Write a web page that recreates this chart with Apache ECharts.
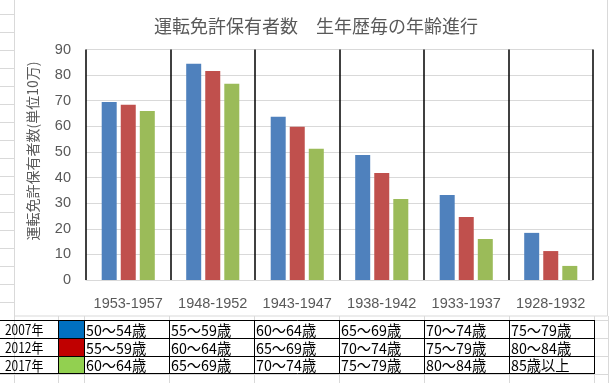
<!DOCTYPE html>
<html><head><meta charset="utf-8">
<script src="https://cdn.jsdelivr.net/npm/echarts@6/dist/echarts.min.js"></script>
<style>html,body{margin:0;padding:0;background:#fff;}#c{width:609px;height:383px;}</style>
</head><body><div id="c"></div>
<script>
const categories = ['1953-1957','1948-1952','1943-1947','1938-1942','1933-1937','1928-1932'];
const years = ['2007年','2012年','2017年'];
const v2007 = [69.5, 84.4, 63.7, 48.8, 33.2, 18.4];
const v2012 = [68.4, 81.6, 59.8, 41.8, 24.6, 11.3];
const v2017 = [66.0, 76.6, 51.2, 31.6, 16.0, 5.5];
const ages2007 = ['50～54歳','55～59歳','60～64歳','65～69歳','70～74歳','75～79歳'];
const ages2012 = ['55～59歳','60～64歳','65～69歳','70～74歳','75～79歳','80～84歳'];
const ages2017 = ['60～64歳','65～69歳','70～74歳','75～79歳','80～84歳','85歳以上'];
const yMin = 0, yMax = 90, yStep = 10;
const titleText = '運転免許保有者数　生年歴毎の年齢進行';
const yName = '運転免許保有者数(単位10万)';

const barColors = ['#4F81BD','#C0504D','#9BBB59'];
const swatchColors = ['#0070C0','#C00000','#92D050'];
const jp = '"Noto Sans CJK JP", sans-serif';
const lat = '"Liberation Sans", Arial, sans-serif';

const chart = echarts.init(document.getElementById('c'), null, {renderer:'canvas'});

const gridGray = '#D9D9D9';
const graphics = [];
for (let y = 14; y <= 302; y += 18) {
  graphics.push({type:'line', silent:true, z:-5, shape:{x1:0,y1:y+0.5,x2:14,y2:y+0.5}, style:{stroke:gridGray,lineWidth:1}});
}
const colX = [58,84,169,254,339,424,509,594];
graphics.push({type:'rect', silent:true, z:-6, shape:{x:14.5,y:-1,width:593,height:317}, style:{fill:'#fff', stroke:gridGray, lineWidth:1}});
const rowY = [320,338,356,374];
rowY.forEach(y=>{
  graphics.push({type:'line', silent:true, z:-5, shape:{x1:0,y1:y+0.5,x2:609,y2:y+0.5}, style:{stroke:gridGray,lineWidth:1}});
});
[14].concat(colX).concat([608]).forEach(x=>{
  graphics.push({type:'line', silent:true, z:-5, shape:{x1:x+0.5,y1:316,x2:x+0.5,y2:383}, style:{stroke:gridGray,lineWidth:1}});
});
const tRows = [320,338,356,373];
const rowsData = [ages2007, ages2012, ages2017];
for (let r = 0; r < 3; r++) {
  graphics.push({type:'rect', silent:true, z:10, shape:{x:58,y:tRows[r]+1,width:26,height:tRows[r+1]-tRows[r]-1}, style:{fill:swatchColors[r]}});
  graphics.push({type:'text', silent:true, z:11, x:5, y:(tRows[r]+tRows[r+1])/2+1, scaleX:0.85,
    style:{text:years[r], x:0, y:0, fill:'#000', font:'14px ' + jp, textAlign:'left', textVerticalAlign:'middle'}});
  for (let c = 0; c < 6; c++) {
    graphics.push({type:'text', silent:true, z:11, x:colX[c+1]+2, y:(tRows[r]+tRows[r+1])/2+1, scaleX:0.95,
      style:{text:rowsData[r][c], x:0, y:0, fill:'#000', font:'15px ' + jp, textAlign:'left', textVerticalAlign:'middle'}});
  }
}
tRows.forEach(y=>{
  graphics.push({type:'line', silent:true, z:12, shape:{x1:0,y1:y+0.5,x2:595,y2:y+0.5}, style:{stroke:'#000',lineWidth:1}});
});
colX.forEach(x=>{
  graphics.push({type:'line', silent:true, z:12, shape:{x1:x+0.5,y1:tRows[0],x2:x+0.5,y2:tRows[3]+1}, style:{stroke:'#000',lineWidth:1}});
});
graphics.push({type:'text', silent:true, z:11, x:33, y:151, rotation:Math.PI/2,
  style:{text:yName, x:0, y:0, fill:'#595959', font:'14px ' + jp, textAlign:'center', textVerticalAlign:'middle'}});

const mk = (name, data, color) => ({
  name, type:'bar', data, barWidth:15, barGap:'27%',
  itemStyle:{color}, z:3
});

chart.setOption({
  animation:false,
  backgroundColor:'#fff',
  title:{text:titleText, left:311, top:12, textAlign:'center',
    textStyle:{fontFamily:jp, fontSize:18, fontWeight:'normal', color:'#595959'}},
  grid:{left:86, right:16, top:49.5, bottom:103, containLabel:false},
  xAxis:{type:'category', data:categories,
    axisLine:{show:true, lineStyle:{color:gridGray, width:1}},
    axisTick:{show:false},
    splitLine:{show:true, interval:0, lineStyle:{color:'#000', width:1.5}},
    axisLabel:{color:'#595959', fontSize:14.5, fontFamily:lat, margin:16, interval:0}},
  yAxis:{type:'value', min:yMin, max:yMax, interval:yStep,
    axisLine:{show:false}, axisTick:{show:false},
    splitLine:{lineStyle:{color:gridGray, width:1}},
    axisLabel:{color:'#595959', fontSize:14.5, fontFamily:lat, margin:15}},
  series:[mk(years[0], v2007, barColors[0]), mk(years[1], v2012, barColors[1]), mk(years[2], v2017, barColors[2])],
  graphic:{elements:graphics}
});
</script></body></html>
